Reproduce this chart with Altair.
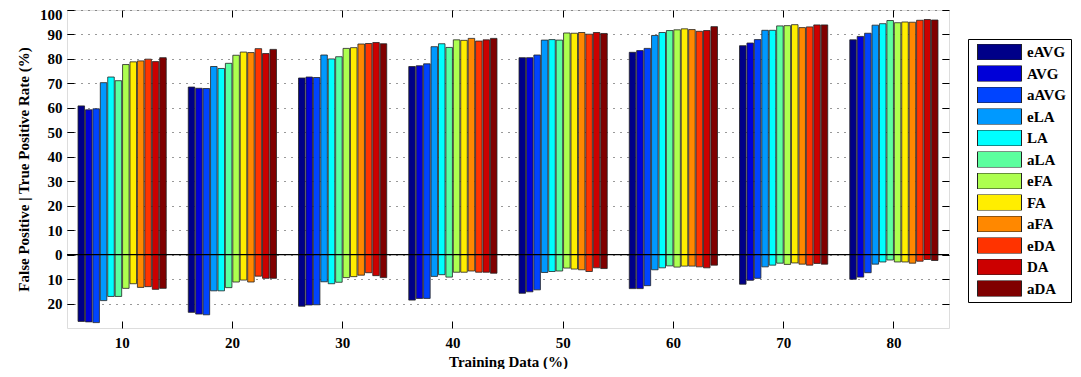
import altair as alt
import pandas as pd

groups = [10, 20, 30, 40, 50, 60, 70, 80]
series = ["eAVG", "AVG", "aAVG", "eLA", "LA", "aLA", "eFA", "FA", "aFA", "eDA", "DA", "aDA"]
colors = ["#000088", "#0000D8", "#0044FF", "#0099FF", "#00FFFF", "#5CFF9E",
          "#ADFF4F", "#FFEE00", "#FF8800", "#FF3300", "#CC0000", "#800000"]

# True positive rate (%) per training-data group, in series order
tpr_10 = [60.8, 59.2, 59.6, 70.3, 72.6, 71.1, 77.7, 78.8, 79.2, 79.9, 78.9, 80.5]
tpr_20 = [68.5, 68.0, 67.9, 76.9, 76.1, 78.2, 81.5, 82.8, 82.6, 84.2, 82.2, 83.9]
tpr_30 = [72.2, 72.6, 72.4, 81.6, 80.0, 80.9, 84.3, 84.6, 86.1, 86.3, 86.7, 86.2]
tpr_40 = [76.9, 77.2, 78.0, 85.0, 86.2, 84.7, 87.8, 87.6, 88.4, 87.3, 87.8, 88.4]
tpr_50 = [80.5, 80.5, 81.6, 87.7, 87.9, 87.7, 90.6, 90.5, 90.8, 90.1, 90.8, 90.4]
tpr_60 = [82.7, 83.4, 84.3, 89.6, 90.8, 91.6, 91.9, 92.3, 92.0, 91.3, 91.6, 93.2]
tpr_70 = [85.4, 86.5, 87.9, 91.7, 91.7, 93.5, 93.6, 94.0, 92.8, 93.1, 93.9, 93.9]
tpr_80 = [87.8, 89.2, 90.5, 93.8, 94.4, 95.7, 94.8, 95.1, 95.0, 95.8, 96.1, 95.9]

# False positive rate (%) per training-data group, in series order
fpr_10 = [27.3, 27.5, 27.8, 18.8, 17.1, 17.1, 13.8, 11.9, 13.4, 13.1, 14.2, 13.8]
fpr_20 = [23.6, 24.3, 24.6, 14.8, 14.8, 13.5, 11.2, 10.4, 11.2, 8.8, 9.7, 9.7]
fpr_30 = [21.1, 20.6, 20.5, 11.1, 11.9, 11.3, 9.4, 9.0, 8.4, 7.4, 8.6, 9.4]
fpr_40 = [18.6, 17.9, 17.9, 8.9, 8.2, 9.2, 7.2, 7.2, 6.7, 7.2, 7.2, 7.6]
fpr_50 = [15.8, 15.2, 14.4, 7.3, 6.9, 6.7, 5.5, 5.9, 6.2, 6.9, 5.4, 5.7]
fpr_60 = [13.9, 13.9, 12.7, 6.2, 5.4, 4.6, 5.1, 4.7, 4.7, 5.0, 5.4, 4.3]
fpr_70 = [12.1, 10.5, 9.7, 5.0, 4.3, 3.5, 4.0, 3.4, 3.9, 4.3, 3.6, 3.9]
fpr_80 = [10.1, 9.2, 7.4, 3.9, 3.0, 2.2, 3.0, 3.0, 3.5, 2.7, 2.0, 2.4]

y_ticks = [-20, -10, 0, 10, 20, 30, 40, 50, 60, 70, 80, 90, 100]
zero_line = [0]

tprs = [tpr_10, tpr_20, tpr_30, tpr_40, tpr_50, tpr_60, tpr_70, tpr_80]
fprs = [fpr_10, fpr_20, fpr_30, fpr_40, fpr_50, fpr_60, fpr_70, fpr_80]
rows = []
for g, tp, fp in zip(groups, tprs, fprs):
    for s, t, f in zip(series, tp, fp):
        rows.append({"group": g, "series": s, "tpr": t, "fpr": f})
df = pd.DataFrame(rows)

FONT = "Liberation Serif"

x_scale = alt.Scale(paddingInner=0.2, paddingOuter=0.1)
xo_scale = alt.Scale(paddingInner=0.12, paddingOuter=0)
y_scale = alt.Scale(domain=[-30, 100], nice=False, zero=False)

base = alt.Chart(df).transform_calculate(neg="-datum.fpr")

bars = base.mark_bar(stroke="#222222", strokeWidth=0.8).encode(
    x=alt.X("group:O", scale=x_scale,
            axis=alt.Axis(orient="bottom", offset=-7, tickSize=7, tickColor="black",
                          tickWidth=1, domain=False, labelAngle=0, labelFont=FONT,
                          labelFontSize=15, labelFontWeight="bold", labelColor="black",
                          labelPadding=7, title="Training Data (%)", titleFont=FONT,
                          titleFontSize=15, titleFontWeight="bold", titleColor="black",
                          titlePadding=4, grid=False)),
    xOffset=alt.XOffset("series:N", sort=series, scale=xo_scale),
    y=alt.Y("tpr:Q", scale=y_scale,
            axis=alt.Axis(orient="left", offset=-7, tickSize=7, tickColor="black",
                          tickWidth=1, values=y_ticks, labelExpr="abs(datum.value)",
                          domain=False, labelFont=FONT, labelFontSize=15,
                          labelFontWeight="bold", labelColor="black", labelPadding=5,
                          labelFlush=1, labelFlushOffset=3,
                          grid=True, gridDash=[1, 6], gridColor="#333333", gridWidth=1,
                          title="False Positive | True Positive Rate (%)",
                          titleFont=FONT, titleFontSize=15, titleFontWeight="bold",
                          titleColor="black", titlePadding=8)),
    y2="neg:Q",
    color=alt.Color("series:N", sort=series,
                    scale=alt.Scale(domain=series, range=colors),
                    legend=alt.Legend(orient="none", legendX=901, legendY=29, title=None,
                                      symbolType="M-1,-0.3636L1,-0.3636L1,0.3636L-1,0.3636Z",
                                      symbolSize=1936, clipHeight=16, rowPadding=5.5,
                                      labelFont=FONT, labelFontSize=15,
                                      labelFontWeight="bold", labelColor="black",
                                      labelOffset=5, strokeColor="black",
                                      fillColor="white", padding=5, symbolOffset=4,
                                      symbolStrokeColor="#222222", symbolStrokeWidth=1,
                                      symbolOpacity=1,
                                      labelExpr="indexof(['AVG','LA','FA','DA'], datum.label) >= 0 ? '\u00a0' + datum.label : datum.label")),
)

zero = alt.Chart(pd.DataFrame({"z": zero_line})).mark_rule(
    color="black", strokeWidth=1.2
).encode(y=alt.Y("z:Q", scale=y_scale, axis=None))

ghost = base.mark_bar(opacity=0).encode(
    x=alt.X("group:O", scale=x_scale,
            axis=alt.Axis(orient="top", offset=-7, tickSize=7, tickColor="black",
                          tickWidth=1, labels=False, domain=False, title=None, grid=False)),
    xOffset=alt.XOffset("series:N", sort=series, scale=xo_scale),
    y=alt.Y("tpr:Q", scale=y_scale,
            axis=alt.Axis(orient="right", offset=-7, tickSize=7, tickColor="black",
                          tickWidth=1, values=y_ticks, labels=False, domain=False,
                          title=None, grid=False)),
    y2="neg:Q",
)

chart = alt.layer(bars, zero, ghost).resolve_axis(
    x="independent", y="independent"
).properties(
    width=882, height=318,
    autosize=alt.AutoSizeParams(type="none"),
    padding={"left": 59, "top": 2, "right": 124, "bottom": 41},
).configure_view(stroke="black", strokeWidth=1.5).configure(background="white")

chart.save("out.html", embed_options={"renderer": "svg", "actions": False})
